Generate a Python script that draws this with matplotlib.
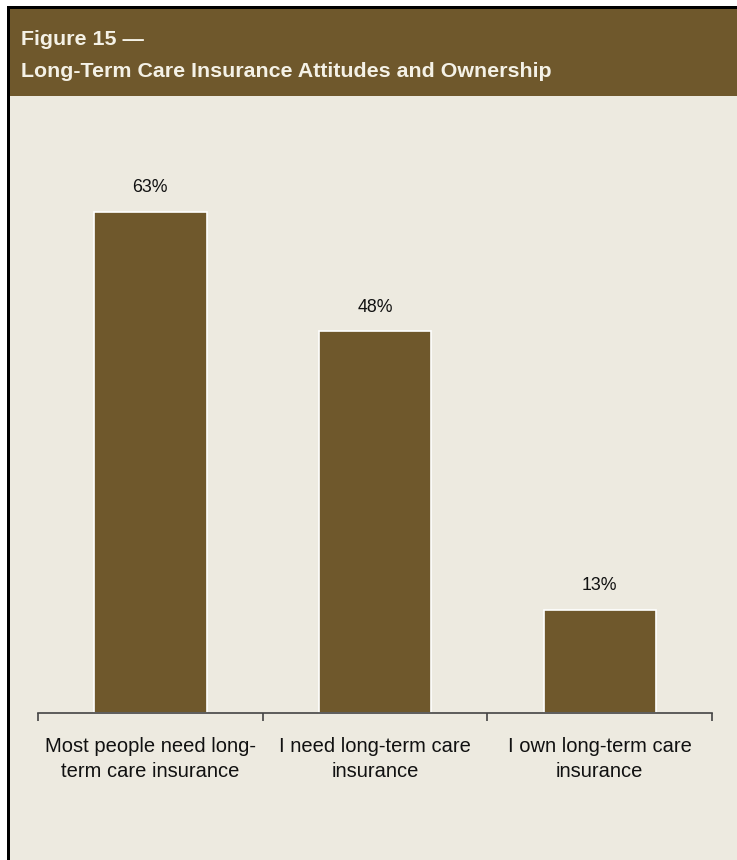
import matplotlib
matplotlib.use('Agg')
import matplotlib.pyplot as plt
from matplotlib.patches import Rectangle

categories = ['Most people need long-\nterm care insurance',
              'I need long-term care\ninsurance',
              'I own long-term care\ninsurance']
values = [63, 48, 13]
value_labels = ['63%', '48%', '13%']
title_lines = ['Figure 15 \u2014', 'Long-Term Care Insurance Attitudes and Ownership']

plt.rcParams['font.family'] = ['Liberation Sans', 'DejaVu Sans']

brown = '#6f582c'
bg = '#edeae0'
W, H = 737, 860

fig = plt.figure(figsize=(W / 100, H / 100), dpi=100)
fig.patch.set_facecolor('white')


def px_rect(x0, y0, x1, y1, color):
    # rectangle given in pixel coords measured from the top-left corner
    fig.add_artist(Rectangle((x0 / W, 1 - y1 / H), (x1 - x0) / W, (y1 - y0) / H,
                             transform=fig.transFigure, facecolor=color,
                             edgecolor='none', zorder=-10))


px_rect(7, 6, W, H, bg)
px_rect(7, 6, W, 96, brown)
px_rect(7, 6, W, 9, 'black')
px_rect(7, 6, 10, H, 'black')

fig.text(21 / W, 1 - 45 / H, title_lines[0], color='#f4f1e6', fontsize=15.4,
         fontweight='bold', va='baseline', ha='left')
fig.text(21 / W, 1 - 77 / H, title_lines[1], color='#f4f1e6', fontsize=15.4,
         fontweight='bold', va='baseline', ha='left')

ax = fig.add_axes([38 / W, (H - 713) / H, (712 - 38) / W, 600 / H])
ax.patch.set_alpha(0)
x = list(range(len(values)))
bars = ax.bar(x, values, width=0.5, color=brown, edgecolor='white', linewidth=1.2)
for xi, v, lab in zip(x, values, value_labels):
    ax.annotate(lab, (xi, v), xytext=(0, 11), textcoords='offset points',
                ha='center', va='bottom', fontsize=12.8, color='#111111')

ax.set_xlim(-0.5, 2.5)
ax.set_ylim(0, 75.4)
for s in ['top', 'right', 'left']:
    ax.spines[s].set_visible(False)
ax.spines['bottom'].set_color('#444444')
ax.spines['bottom'].set_linewidth(1.2)
ax.set_yticks([])
ax.set_xticks(x)
ax.set_xticklabels(categories, fontsize=14.5, color='#111111', linespacing=1.4)
ax.set_xticks([-0.5, 0.5, 1.5, 2.5], minor=True)
ax.tick_params(axis='x', which='major', length=0, pad=17)
ax.tick_params(axis='x', which='minor', length=6, width=1.2, color='#444444', direction='out')

fig.savefig('out.png', dpi=100, facecolor='white')
